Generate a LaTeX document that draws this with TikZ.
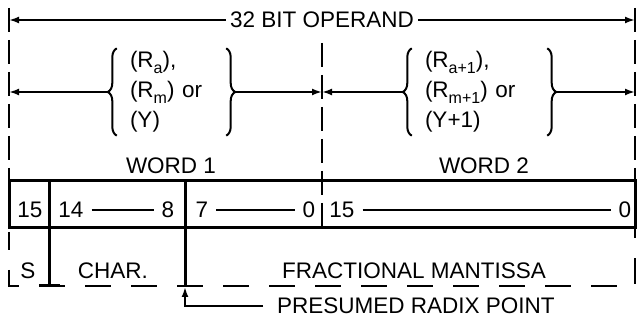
\documentclass[tikz,border=0pt]{standalone}
\usepackage{fontspec}
\setmainfont{Liberation Sans}
\usetikzlibrary{positioning,arrows.meta,decorations.pathreplacing}
\newcommand{\lowidx}[1]{\raisebox{-0.45ex}{\fontsize{16}{16}\selectfont #1}}

\begin{document}
\begin{tikzpicture}[x=1pt, y=-1pt,
    every node/.style={font=\fontsize{22.5}{30}\selectfont, inner sep=0pt},
    dimline/.style={line width=2pt, -{Latex[length=10pt,width=7pt]}},
    guide/.style={line width=2.4pt, dash pattern=on 24pt off 8pt},
    basedash/.style={line width=2.4pt, dash pattern=on 26pt off 20pt, dash phase=8pt},
    frame/.style={line width=3pt},
    bitline/.style={line width=2pt, shorten <=8pt, shorten >=8pt},
    bracetext/.style={align=left, inner xsep=13pt, inner ysep=3pt},
    curly/.style={line width=2pt, decorate, decoration={brace, amplitude=9pt}}]

  \useasboundingbox (0,0) rectangle (638,320);

  % Frame points
  \coordinate (ltop) at (9,8);
  \coordinate (rtop) at (635,8);
  \coordinate (mtop) at (322,43);
  \coordinate (lbot) at (9,286);
  \coordinate (rbot) at (635,286);
  \coordinate (opl) at (9,20);
  \coordinate (opr) at (635,20);
  \coordinate (wl) at (9,92);
  \coordinate (wm) at (322,92);
  \coordinate (wr) at (635,92);

  % Dashed extension lines
  \draw[guide] (ltop) -- (9,181);
  \draw[guide] (rtop) -- (635,181);
  \draw[guide] (mtop) -- (322,226);
  \draw[basedash] (9,232) -- (lbot) -- (rbot) -- (635,228);

  % 32 bit operand
  \node (opnd) at (322,20) {32 BIT OPERAND};
  \draw[dimline, shorten <=4pt] (opnd) -- (opl);
  \draw[dimline, shorten <=4pt] (opnd) -- (opr);

  % Word sources
  \node[bracetext, text width=83pt] (srca) at (171.5,92)
    {(R\lowidx{a}),\\(R\lowidx{m}) or\\(Y)};
  \node[bracetext, text width=109pt] (srcb) at (479.5,92)
    {(R\lowidx{a+1}),\\(R\lowidx{m+1}) or\\(Y+1)};
  \foreach \s in {srca, srcb} {
    \draw[curly] (\s.south west) -- (\s.north west);
    \draw[curly] (\s.north east) -- (\s.south east);
  }
  \draw[dimline, shorten <=10pt] (srca) -- (wl);
  \draw[dimline, shorten <=10pt] (srca) -- (wm);
  \draw[dimline, shorten <=10pt] (srcb) -- (wm);
  \draw[dimline, shorten <=10pt] (srcb) -- (wr);

  \node (word1) at (171,166) {WORD 1};
  \node (word2) at (484,166) {WORD 2};

  % Register box
  \draw[frame] (9,181) rectangle (635,228);
  \draw[frame] (49,181) -- (49,286);
  \draw[frame] (39,286) -- (60,286);
  \draw[frame] (185,181) -- (185,286);

  % Bit numbers
  \node (b15) at (30,210) {15};
  \node (b14) at (71,210) {14};
  \node (b8)  at (168,210) {8};
  \node (b7)  at (202,210) {7};
  \node (b0)  at (309,210) {0};
  \node (c15) at (342,210) {15};
  \node (c0)  at (625,210) {0};
  \draw[bitline] (b14) -- (b8);
  \draw[bitline] (b7) -- (b0);
  \draw[bitline] (c15) -- (c0);

  % Fields
  \node (sign) at (28,271) {S};
  \node (chr)  at (113,271) {CHAR.};
  \node (mant) at (414,271) {FRACTIONAL MANTISSA};

  % Radix point
  \coordinate (rdx) at (185,287);
  \node[anchor=west] (radix) at (277,306) {PRESUMED RADIX POINT};
  \draw[dimline, shorten <=14pt] (radix) -| (rdx);
\end{tikzpicture}
\end{document}
